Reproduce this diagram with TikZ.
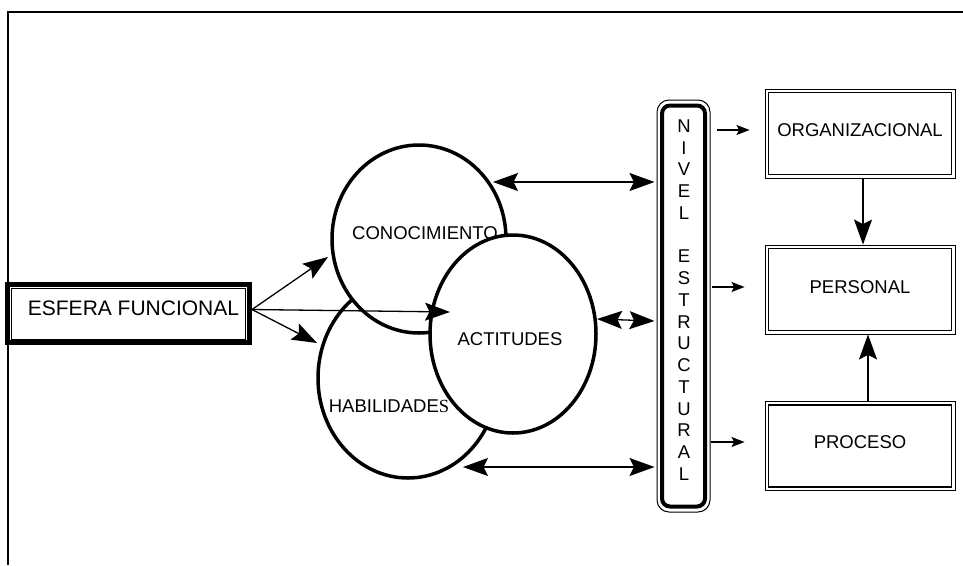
\documentclass[tikz,border=0pt]{standalone}
\usepackage{fontspec}
\setmainfont{Liberation Sans}
\newfontfamily\serifface{Liberation Serif}
\usetikzlibrary{shapes.geometric,arrows.meta}

\begin{document}
\begin{tikzpicture}[x=1pt,y=-1pt,
  lbl/.style={font=\fontsize{18.5}{21.75}\selectfont,inner sep=0pt},
  oval/.style={ellipse,draw,fill=white,line width=3.5pt,inner sep=0pt},
  dbox/.style={draw,line width=0.9pt,inner sep=0pt,minimum width=190pt,minimum height=89pt},
  inbox/.style={line width=1.6pt},
  conn/.style={line width=1.3pt},
  big/.style={conn,-{Stealth[length=25pt,width=18pt,inset=4.5pt]}},
  bigboth/.style={conn,{Stealth[length=25pt,width=18pt,inset=4.5pt]}-{Stealth[length=25pt,width=18pt,inset=4.5pt]}},
  small/.style={conn,-{Stealth[length=13pt,width=10pt,inset=2.5pt]}}]

\useasboundingbox (0,0) rectangle (963,565);

% outer frame (top and left edges)
\draw[line width=2pt] (963,12) -- (8,12) -- (8,565);

% source box
\node[draw,line width=5pt,fill=white,inner sep=0pt,minimum width=242pt,minimum height=58pt] (esf) at (128.5,313.5) {};
\draw[line width=1pt] ([shift={(6,6)}]esf.north west) rectangle ([shift={(-7,-6)}]esf.south east);
\node[font=\fontsize{21}{24}\selectfont,inner sep=0pt] (esfT) at (133.5,308) {ESFERA FUNCIONAL};

% overlapping ovals
\node[oval,minimum width=180pt,minimum height=200pt] (hab) at (408,378) {};
\node[lbl] (habT) at (389,406) {HABILIDADE{\serifface S}};
\node[oval,minimum width=174pt,minimum height=188pt] (cono) at (419,239) {};
\node[lbl] (conoT) at (425,233) {CONOCIMIENTO};
\node[oval,minimum width=166pt,minimum height=198pt] (act) at (513,334) {};
\node[lbl] (actT) at (510,339) {ACTITUDES};

% vertical level bar
\node[draw,rounded corners=12pt,line width=1pt,inner sep=0pt,minimum width=53pt,minimum height=412pt] (bar) at (683.5,306) {};
\draw[line width=4pt,rounded corners=8pt] ([shift={(5.5,6)}]bar.north west) rectangle ([shift={(-5.5,-6)}]bar.south east);
\node[lbl,align=center] (nivel) at (684,300) {N\\I\\V\\E\\L\\\mbox{}\\E\\S\\T\\R\\U\\C\\T\\U\\R\\A\\L};

% right-hand boxes
\node[dbox] (org) at (860,133.5) {};
\draw[inbox] ([shift={(4,4)}]org.north west) rectangle ([shift={(-4,-4)}]org.south east);
\node[lbl] (orgT) at (860,130) {ORGANIZACIONAL};

\node[dbox] (pers) at (860,289.5) {};
\draw[inbox] ([shift={(4,4)}]pers.north west) rectangle ([shift={(-4,-4)}]pers.south east);
\node[lbl] (persT) at (860,287) {PERSONAL};

\node[dbox] (proc) at (860,446) {};
\draw[inbox] ([shift={(4,4)}]proc.north west) rectangle ([shift={(-4,-4)}]proc.south east);
\node[lbl] (procT) at (860,442) {PROCESO};

% arrows from the source box
\coordinate (esfOut) at ([yshift=4pt]esf.east);
\coordinate (toCono) at (328,257);
\coordinate (toAct) at (450,312);
\coordinate (toHab) at (317,343);
\draw[big] (esfOut) -- (toCono);
\draw[big] (esfOut) -- (toAct);
\draw[big] (esfOut) -- (toHab);

% two-way arrows between ovals and bar
\coordinate (conoR) at (493,182);
\coordinate (actR) at (597,319);
\coordinate (habR) at (463,467);
\draw[bigboth] (conoR) -- ([xshift=-2pt]conoR -| bar.west);
\draw[bigboth] (actR) -- ([xshift=-2pt,yshift=-2pt]actR -| bar.west);
\draw[bigboth] (habR) -- ([xshift=-2pt]habR -| bar.west);

% bar to boxes
\draw[small] ([xshift=6pt]bar.east |- orgT) -- ([xshift=-15pt]org.west |- orgT);
\draw[small] ([xshift=1pt]bar.east |- persT) -- ([xshift=-20pt]pers.west |- persT);
\draw[small] ([xshift=0pt]bar.east |- procT) -- ([xshift=-20pt]proc.west |- procT);

% links between boxes
\draw[big] ([xshift=3pt]org.south) -- ([xshift=3pt]pers.north);
\draw[big] ([xshift=8pt]proc.north) -- ([xshift=8pt]pers.south);
\end{tikzpicture}
\end{document}
